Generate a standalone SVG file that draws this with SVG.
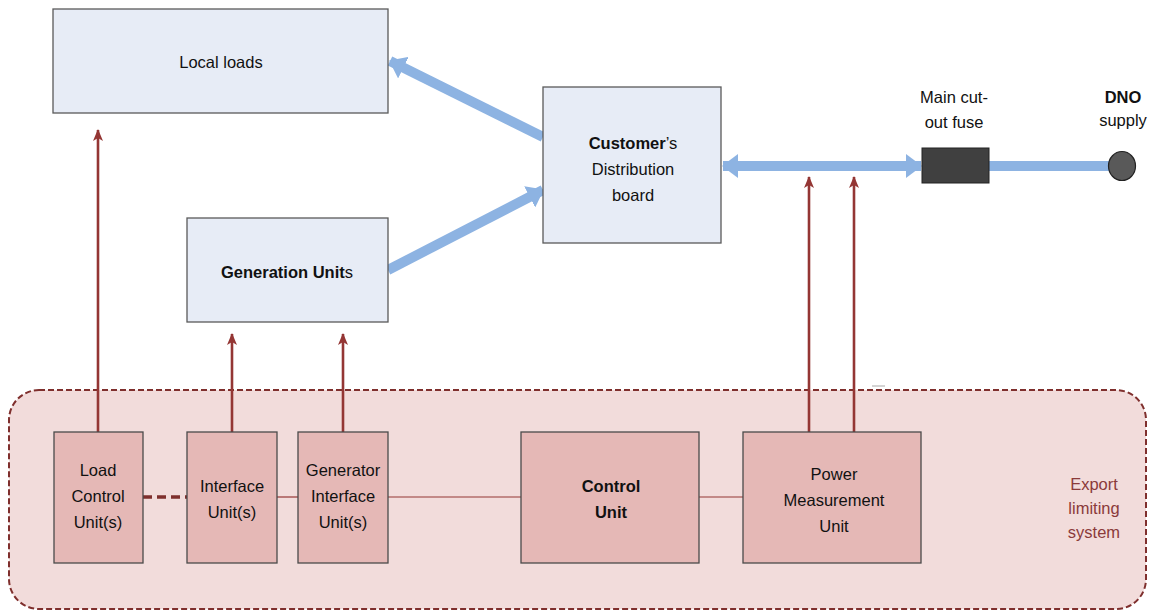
<svg xmlns="http://www.w3.org/2000/svg" width="1153" height="616" viewBox="0 0 1153 616">
  <defs>
    <style>
      text { font-family: "Liberation Sans", Arial, sans-serif; font-size: 16.5px; fill: #111; text-anchor: middle; }
      .b { font-weight: bold; }
      .blueBox { fill: #E7ECF6; stroke: #5a5a5a; stroke-width: 1.3; }
      .pinkBox { fill: #E5B8B6; stroke: #4a4a4a; stroke-width: 1.3; }
      .power { stroke: #8DB3E2; stroke-width: 10; fill: none; }
      .signal { stroke: #943634; stroke-width: 2.6; fill: none; }
      .link { stroke: #943634; stroke-width: 1.2; fill: none; }
      .ext { fill: #8B3A3A; }
    </style>
    <marker id="blueHead" markerUnits="userSpaceOnUse" viewBox="0 0 16 24" refX="15" refY="12" markerWidth="16" markerHeight="24" orient="auto-start-reverse">
      <path d="M0,0 L16,12 L0,24 Z" fill="#8DB3E2"/>
    </marker>
    <marker id="redHead" markerUnits="userSpaceOnUse" viewBox="0 0 12 10" refX="11" refY="5" markerWidth="12" markerHeight="10" orient="auto">
      <path d="M0,0 L12,5 L0,10 L3,5 Z" fill="#943634"/>
    </marker>
  </defs>

  <!-- Export limiting system enclosure -->
  <g id="export-limiting-system">
    <rect x="9" y="390" width="1137" height="219" rx="30" ry="30" fill="#F2DCDB" stroke="#7F2F2D" stroke-width="2" stroke-dasharray="6,3"/>
    <text class="ext" x="1094" y="490">Export</text>
    <text class="ext" x="1094" y="514">limiting</text>
    <text class="ext" x="1094" y="538">system</text>
    <line x1="872" y1="386" x2="885" y2="386" stroke="#b8b8b8" stroke-width="1.2"/>
  </g>

  <!-- Connectors -->
  <g id="connectors">
    <line class="power" x1="543" y1="137" x2="390" y2="61" marker-end="url(#blueHead)"/>
    <line class="power" x1="388" y1="270" x2="543" y2="190" marker-end="url(#blueHead)"/>
    <line class="power" x1="723" y1="166" x2="921" y2="166" marker-start="url(#blueHead)" marker-end="url(#blueHead)"/>
    <line class="power" x1="989" y1="166" x2="1112" y2="166"/>

    <line class="signal" x1="98" y1="432" x2="98" y2="130" marker-end="url(#redHead)"/>
    <line class="signal" x1="232" y1="432" x2="232" y2="334" marker-end="url(#redHead)"/>
    <line class="signal" x1="343" y1="432" x2="343" y2="334" marker-end="url(#redHead)"/>
    <line class="signal" x1="809" y1="432" x2="809" y2="177" marker-end="url(#redHead)"/>
    <line class="signal" x1="854" y1="432" x2="854" y2="177" marker-end="url(#redHead)"/>

    <line x1="143" y1="497" x2="187" y2="497" stroke="#7F2F2D" stroke-width="3.5" stroke-dasharray="9,5"/>
    <line class="link" x1="277" y1="497" x2="298" y2="497"/>
    <line class="link" x1="388" y1="497" x2="521" y2="497"/>
    <line class="link" x1="699" y1="497" x2="743" y2="497"/>
  </g>

  <g id="local-loads">
    <rect class="blueBox" x="53" y="9" width="335" height="104"/>
    <text x="221" y="68">Local loads</text>
  </g>

  <g id="generation-units">
    <rect class="blueBox" x="187" y="218" width="201" height="104"/>
    <text x="287" y="278"><tspan class="b">Generation Unit</tspan>s</text>
  </g>

  <g id="distribution-board">
    <rect class="blueBox" x="543" y="87" width="178" height="156"/>
    <text x="633" y="149"><tspan class="b">Customer</tspan>’s</text>
    <text x="633" y="175">Distribution</text>
    <text x="633" y="201">board</text>
  </g>

  <g id="cut-out-fuse">
    <rect x="922" y="148" width="67" height="35" fill="#404040" stroke="#222" stroke-width="1"/>
    <text x="954" y="103">Main cut-</text>
    <text x="954" y="128">out fuse</text>
  </g>

  <g id="dno-supply">
    <ellipse cx="1122" cy="166" rx="13.5" ry="14.5" fill="#595959" stroke="#222" stroke-width="1.2"/>
    <text class="b" x="1123" y="103">DNO</text>
    <text x="1123" y="126">supply</text>
  </g>

  <g id="load-control-unit">
    <rect class="pinkBox" x="54" y="432" width="89" height="131"/>
    <text x="98" y="476">Load</text>
    <text x="98" y="502">Control</text>
    <text x="98" y="528">Unit(s)</text>
  </g>

  <g id="interface-unit">
    <rect class="pinkBox" x="187" y="432" width="90" height="131"/>
    <text x="232" y="492">Interface</text>
    <text x="232" y="518">Unit(s)</text>
  </g>

  <g id="generator-interface-unit">
    <rect class="pinkBox" x="298" y="432" width="90" height="131"/>
    <text x="343" y="476">Generator</text>
    <text x="343" y="502">Interface</text>
    <text x="343" y="528">Unit(s)</text>
  </g>

  <g id="control-unit">
    <rect class="pinkBox" x="521" y="432" width="178" height="131"/>
    <text class="b" x="611" y="492">Control</text>
    <text class="b" x="611" y="518">Unit</text>
  </g>

  <g id="power-measurement-unit">
    <rect class="pinkBox" x="743" y="432" width="178" height="131"/>
    <text x="834" y="480">Power</text>
    <text x="834" y="506">Measurement</text>
    <text x="834" y="532">Unit</text>
  </g>
</svg>
